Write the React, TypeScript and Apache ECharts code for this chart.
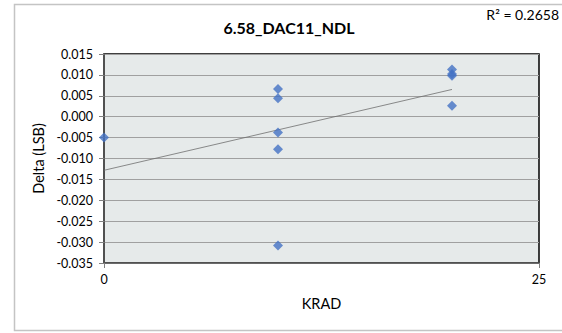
import React, { useEffect, useRef } from "react";
import * as echarts from "echarts";

const chartTitle = "6.58_DAC11_NDL";
const rSquaredLabel = "R² = 0.2658";
const xAxisName = "KRAD";
const yAxisName = "Delta (LSB)";
const krad = [0, 10, 10, 10, 10, 10, 20, 20, 20, 20];
const delta = [-0.005, 0.0066, 0.0044, -0.0038, -0.0078, -0.0308, 0.0113, 0.0102, 0.0098, 0.0026];
const trendXs = [0, 20];

function linearFit(xs: number[], ys: number[]) {
  const n = xs.length;
  const mx = xs.reduce((a, b) => a + b, 0) / n;
  const my = ys.reduce((a, b) => a + b, 0) / n;
  let sxy = 0;
  let sxx = 0;
  for (let i = 0; i < n; i++) {
    sxy += (xs[i] - mx) * (ys[i] - my);
    sxx += (xs[i] - mx) * (xs[i] - mx);
  }
  const slope = sxy / sxx;
  return { slope, intercept: my - slope * mx };
}

const FONT = "Lato";

export default function App() {
  const ref = useRef<HTMLDivElement>(null);
  useEffect(() => {
    if (!ref.current) return;
    const chart = echarts.init(ref.current, undefined, { renderer: "svg" });
    const fit = linearFit(krad, delta);
    const trend = trendXs.map((x) => [x, fit.intercept + fit.slope * x]);
    chart.setOption({
      animation: false,
      backgroundColor: "#ffffff",
      textStyle: { fontFamily: FONT },
      grid: {
        left: 104,
        right: 23,
        top: 54,
        bottom: 70,
        show: true,
        backgroundColor: "#e6eaea",
        borderColor: "#000000",
        borderWidth: 1.5,
      },
      graphic: [
        {
          type: "rect",
          shape: { x: 14.5, y: 4.5, width: 600, height: 326 },
          style: { fill: "none", stroke: "#c4c4c4", lineWidth: 1.5 },
          silent: true,
        },
        {
          type: "text",
          x: 289,
          y: 27,
          style: {
            text: chartTitle,
            fontFamily: FONT,
            fontWeight: "bold",
            fontSize: 16,
            fill: "#000000",
            textAlign: "center",
            textVerticalAlign: "middle",
          },
        },
        {
          type: "text",
          x: 559,
          y: 14,
          style: {
            text: rSquaredLabel,
            fontFamily: FONT,
            fontSize: 14,
            fill: "#000000",
            textAlign: "right",
            textVerticalAlign: "middle",
          },
        },
      ],
      xAxis: {
        type: "value",
        min: 0,
        max: 25,
        interval: 25,
        name: xAxisName,
        nameLocation: "middle",
        nameGap: 33,
        nameTextStyle: { fontFamily: FONT, fontSize: 14.5, color: "#000000" },
        axisLine: { show: true, onZero: false, lineStyle: { color: "#595959", width: 1.5 } },
        axisTick: { show: true, length: 5, lineStyle: { color: "#808080" } },
        axisLabel: { fontFamily: FONT, fontSize: 12.5, color: "#000000", margin: 10 },
        splitLine: { show: false },
      },
      yAxis: {
        type: "value",
        min: -0.035,
        max: 0.015,
        interval: 0.005,
        name: yAxisName,
        nameLocation: "middle",
        nameGap: 53,
        nameRotate: 90,
        nameTextStyle: { fontFamily: FONT, fontSize: 14.5, color: "#000000" },
        axisLine: { show: true, onZero: false, lineStyle: { color: "#595959", width: 1.5 } },
        axisTick: { show: true, length: 5, lineStyle: { color: "#808080" } },
        axisLabel: {
          fontFamily: FONT,
          fontSize: 12.5,
          color: "#000000",
          margin: 11,
          formatter: (v: number) => (Math.abs(v) < 1e-9 ? "0.000" : v.toFixed(3)),
        },
        splitLine: { show: true, lineStyle: { color: "#a0a0a0", width: 1.2 } },
      },
      series: [
        {
          type: "line",
          data: trend,
          symbol: "none",
          lineStyle: { color: "#6e6e6e", width: 0.8 },
          z: 3,
        },
        {
          type: "scatter",
          data: krad.map((x, i) => [x, delta[i]]),
          symbol: "diamond",
          symbolSize: 10,
          itemStyle: { color: "#4472c4" },
          z: 4,
        },
      ],
    });
    return () => chart.dispose();
  }, []);
  return (
    <div
      ref={ref}
      style={{ position: "absolute", left: 0, top: 0, width: 562, height: 333 }}
    />
  );
}
